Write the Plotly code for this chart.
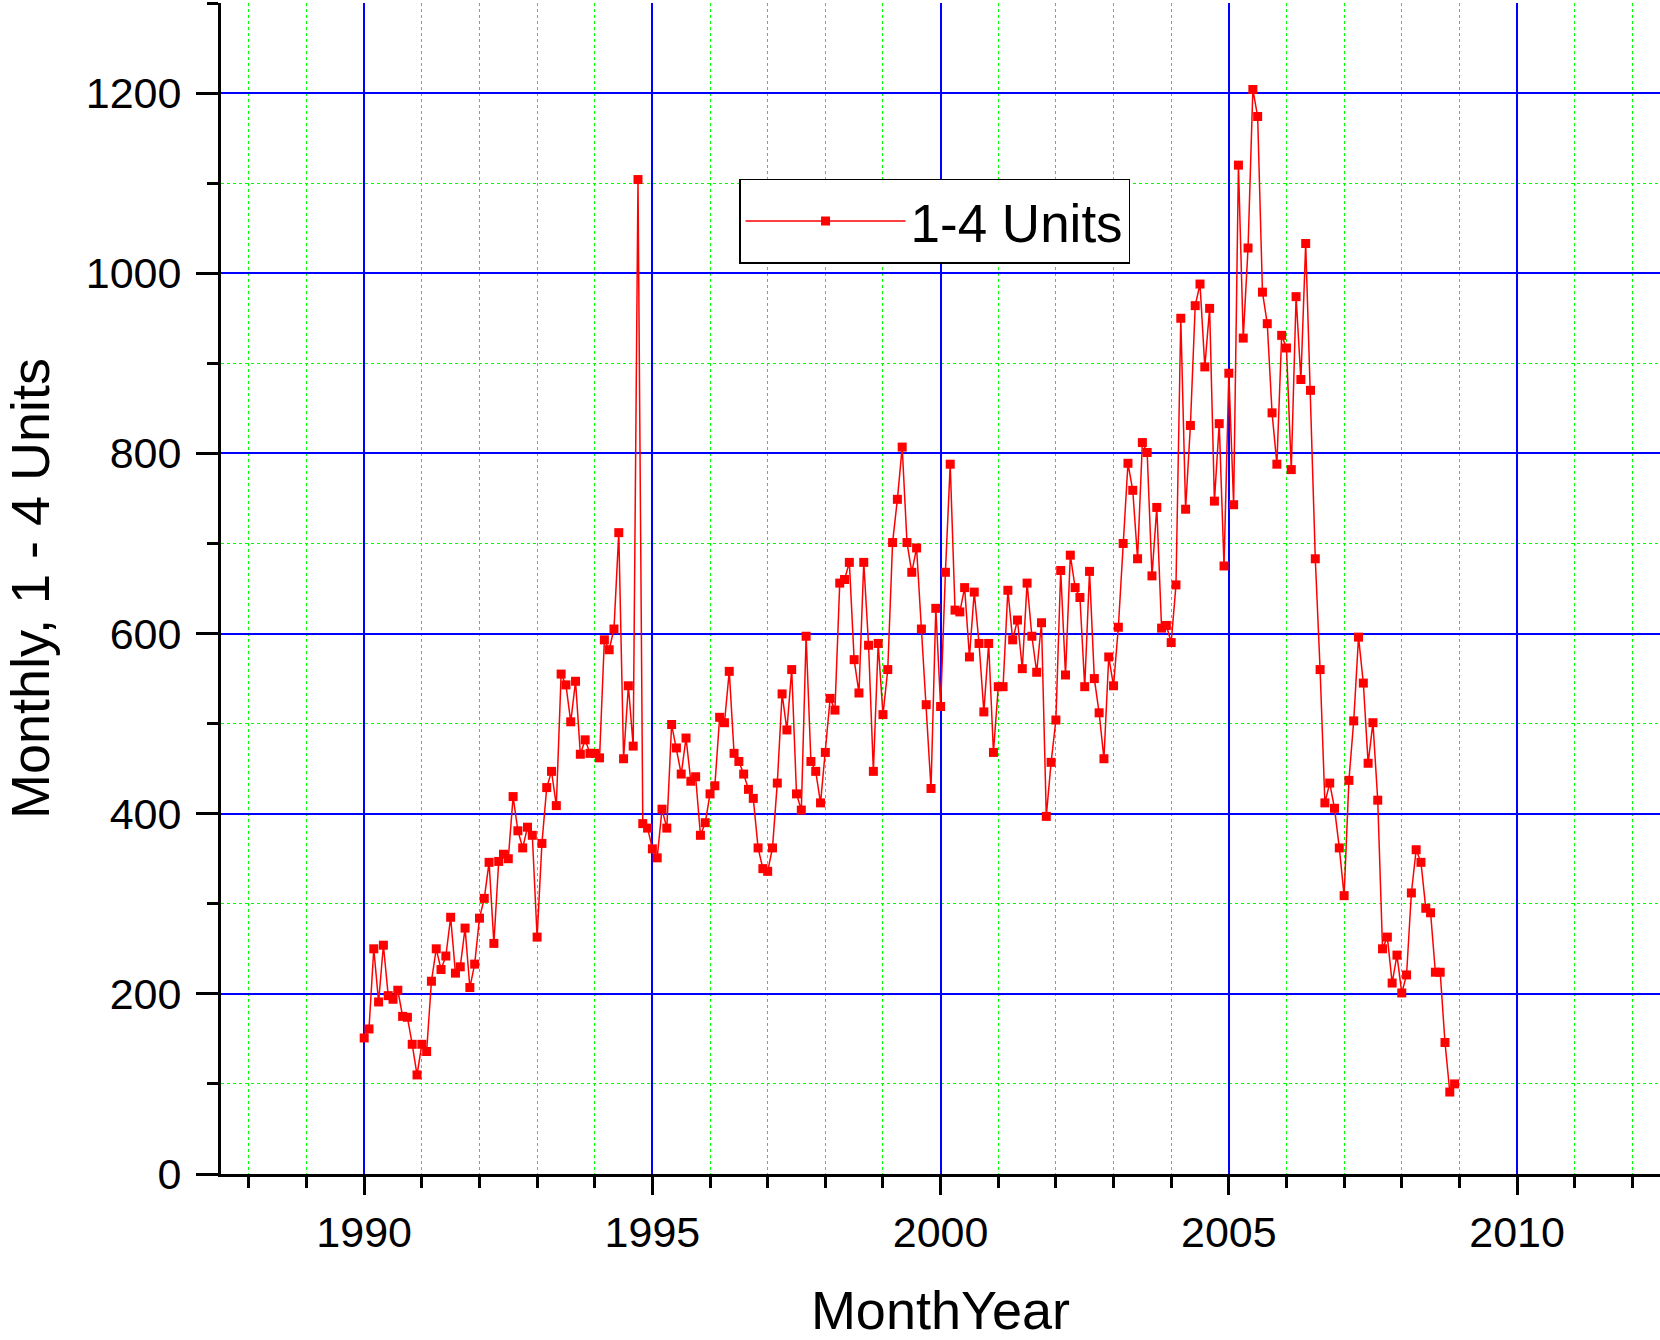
import numpy as np
import plotly.graph_objects as go

# Monthly series, Jan 1990 .. Dec 2008
start_year = 1990
units_1_4 = [
    151, 161, 250, 191, 254, 198, 194, 204, 175, 174, 144, 110,   # 1990
    144, 136, 214, 250, 227, 242, 285, 223, 230, 273, 207, 233,   # 1991
    284, 306, 346, 256, 347, 355, 350, 419, 381, 362, 385, 376,   # 1992
    263, 367, 429, 447, 409, 555, 543, 502, 547, 466, 482, 467,   # 1993
    467, 462, 593, 582, 605, 712, 461, 542, 475, 1104, 389, 384,  # 1994
    361, 351, 405, 384, 499, 473, 444, 484, 436, 441, 376, 390,   # 1995
    422, 431, 507, 501, 558, 467, 458, 444, 427, 417, 362, 339,   # 1996
    336, 362, 434, 533, 493, 560, 422, 404, 597, 458, 447, 412,   # 1997
    468, 528, 515, 656, 660, 679, 571, 534, 679, 587, 447, 589,   # 1998
    510, 560, 701, 749, 807, 701, 668, 695, 605, 521, 428, 628,   # 1999
    519, 668, 788, 626, 624, 651, 574, 646, 589, 513, 589, 468,   # 2000
    541, 541, 648, 593, 615, 561, 656, 597, 557, 612, 397, 457,   # 2001
    504, 670, 554, 687, 651, 640, 541, 669, 550, 512, 461, 574,   # 2002
    542, 607, 700, 789, 759, 683, 812, 801, 664, 740, 606, 609,   # 2003
    590, 654, 950, 738, 831, 964, 988, 896, 961, 747, 833, 675,   # 2004
    889, 743, 1120, 928, 1028, 1204, 1174, 979, 944, 845, 788, 931,  # 2005
    917, 782, 974, 882, 1033, 870, 683, 560, 412, 434, 406, 362,  # 2006
    309, 437, 503, 596, 545, 456, 501, 415, 250, 263, 212, 243,   # 2007
    201, 221, 312, 360, 346, 295, 290, 224, 224, 146, 91, 100,    # 2008
]
x_vals = start_year + np.arange(len(units_1_4)) / 12.0

series_name = "1-4 Units"
x_title = "MonthYear"
y_title = "Monthly, 1 - 4 Units"
x_tickvals = [1990, 1995, 2000, 2005, 2010]
y_tickvals = [0, 200, 400, 600, 800, 1000, 1200]

FONT = "Liberation Sans, Arial, sans-serif"

fig = go.Figure()
fig.add_trace(go.Scatter(
    x=x_vals, y=units_1_4, mode="lines+markers", name=series_name,
    line=dict(color="#FF0000", width=1.5),
    marker=dict(symbol="square", size=9, color="#FF0000"),
))

fig.update_layout(
    width=1660, height=1340,
    margin=dict(l=221, r=0, t=3, b=166),
    paper_bgcolor="white", plot_bgcolor="white",
    font=dict(family=FONT, color="black", size=43),
    showlegend=True,
    hovermode=False,
    legend=dict(
        x=0.36, y=0.85, xanchor="left", yanchor="top",
        bgcolor="white", bordercolor="black", borderwidth=1.5,
        font=dict(size=53, family=FONT),
        itemwidth=160,
    ),
    xaxis=dict(
        range=[1987.516, 2012.48],
        tickmode="array", tickvals=x_tickvals, tickformat="d",
        ticks="outside", ticklen=18, tickwidth=2.5, tickcolor="black",
        showline=True, linecolor="black", linewidth=3,
        showgrid=True, gridcolor="#0000FF", gridwidth=1.5,
        zeroline=False,
        tickfont=dict(size=43, family=FONT),
        minor=dict(dtick=1, tick0=1990, ticks="outside", ticklen=11,
                   tickwidth=2.5, tickcolor="black",
                   showgrid=True, gridcolor="#00FF00", gridwidth=1, griddash="dot"),
        title=dict(text=x_title, font=dict(size=54, family=FONT), standoff=42),
    ),
    yaxis=dict(
        range=[0, 1300],
        tickmode="array", tickvals=y_tickvals,
        ticks="outside", ticklen=22, tickwidth=2.5, tickcolor="black",
        ticklabelstandoff=6,
        showline=True, linecolor="black", linewidth=3,
        showgrid=True, gridcolor="#0000FF", gridwidth=1.5,
        zeroline=False,
        tickfont=dict(size=43, family=FONT),
        minor=dict(dtick=100, tick0=0, ticks="outside", ticklen=11,
                   tickwidth=2.5, tickcolor="black",
                   showgrid=True, gridcolor="#00FF00", gridwidth=1, griddash="dot"),
        title=dict(text=y_title, font=dict(size=54, family=FONT), standoff=28),
    ),
)

fig.write_html("out.html", config={"displayModeBar": False},
               post_script="document.body.style.margin='0';")
